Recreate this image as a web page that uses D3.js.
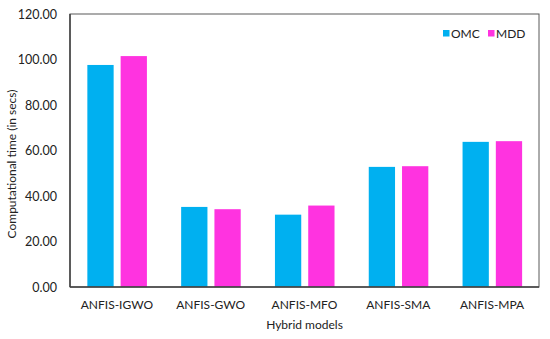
<!DOCTYPE html>
<html>
<head>
<meta charset="utf-8">
<script src="https://cdn.jsdelivr.net/npm/d3@7"></script>
<style>
  body { margin: 0; background: #fff; }
  text { font-family: Lato, "Open Sans", sans-serif; fill: #222; }
</style>
</head>
<body>
<div id="chart"></div>
<script>
  var models = ["ANFIS-IGWO", "ANFIS-GWO", "ANFIS-MFO", "ANFIS-SMA", "ANFIS-MPA"];
  var series = ["OMC", "MDD"];
  var omc = [97.6, 35.2, 31.8, 52.8, 63.8];
  var mdd = [101.5, 34.2, 35.8, 53.1, 64.1];
  var yTicks = [0, 20, 40, 60, 80, 100, 120];
  var colors = ["#00b0f0", "#ff33e0"];

  var width = 550, height = 339;
  var margin = { top: 14, right: 11, bottom: 52, left: 70 };
  var w = width - margin.left - margin.right,
      h = height - margin.top - margin.bottom;

  var svg = d3.select("#chart").append("svg")
      .attr("width", width)
      .attr("height", height);
  var g = svg.append("g")
      .attr("transform", "translate(" + margin.left + "," + margin.top + ")");

  var x0 = d3.scaleBand().domain(models).range([0, w]).padding(0);
  var x1 = d3.scaleBand().domain(series)
      .range([x0.step() * 0.185, x0.step() * 0.82])
      .paddingInner(0.21).paddingOuter(0);
  var y = d3.scaleLinear().domain([0, 120]).range([h, 0]);

  var rows = models.map(function(m, i) {
    return { model: m, values: [omc[i], mdd[i]] };
  });

  // bars
  var groups = g.selectAll(".grp").data(rows).enter().append("g")
      .attr("transform", function(d) { return "translate(" + x0(d.model) + ",0)"; });
  groups.selectAll("rect")
      .data(function(d) { return d.values.map(function(v, j) { return { key: series[j], v: v, j: j }; }); })
      .enter().append("rect")
      .attr("x", function(d) { return x1(d.key); })
      .attr("width", x1.bandwidth())
      .attr("y", function(d) { return y(d.v); })
      .attr("height", function(d) { return h - y(d.v); })
      .attr("fill", function(d) { return colors[d.j]; });

  // y axis labels
  var yAxis = g.append("g")
      .call(d3.axisLeft(y).tickValues(yTicks).tickSize(0).tickPadding(13)
        .tickFormat(function(d) { return d3.format(".2f")(d); }));
  yAxis.select(".domain").remove();
  yAxis.selectAll("text").style("font-size", "12.5px").attr("fill", "#222");

  // x axis labels
  var xAxis = g.append("g")
      .attr("transform", "translate(0," + h + ")")
      .call(d3.axisBottom(x0).tickSize(0).tickPadding(13));
  xAxis.select(".domain").remove();
  xAxis.selectAll("text").style("font-size", "12px").attr("fill", "#222");

  // plot frame
  g.append("rect")
      .attr("width", w).attr("height", h)
      .attr("fill", "none")
      .attr("stroke", "#595959")
      .attr("stroke-width", 1);
  g.append("line")
      .attr("x1", 0).attr("x2", w).attr("y1", h).attr("y2", h)
      .attr("stroke", "#404040").attr("stroke-width", 1.5);
  g.append("line")
      .attr("x1", 0).attr("x2", 0).attr("y1", 0).attr("y2", h)
      .attr("stroke", "#404040").attr("stroke-width", 1.5);

  // axis titles
  svg.append("text")
      .attr("transform", "translate(12," + 164 + ") rotate(-90)")
      .attr("dy", "0.35em")
      .style("text-anchor", "middle")
      .style("font-size", "12px")
      .text("Computational time (in secs)");
  svg.append("text")
      .attr("x", margin.left + w / 2)
      .attr("y", 329)
      .style("text-anchor", "middle")
      .style("font-size", "12px")
      .text("Hybrid models");

  // legend
  var legX = [443, 488];
  var leg = svg.selectAll(".leg").data(series).enter().append("g")
      .attr("transform", function(d, i) { return "translate(" + legX[i] + ",30)"; });
  leg.append("rect").attr("width", 6.5).attr("height", 6.5)
      .attr("fill", function(d, i) { return colors[i]; });
  leg.append("text").attr("x", 8).attr("y", 3.5).attr("dy", "0.35em")
      .style("font-size", "12px")
      .text(function(d) { return d; });
</script>
</body>
</html>
